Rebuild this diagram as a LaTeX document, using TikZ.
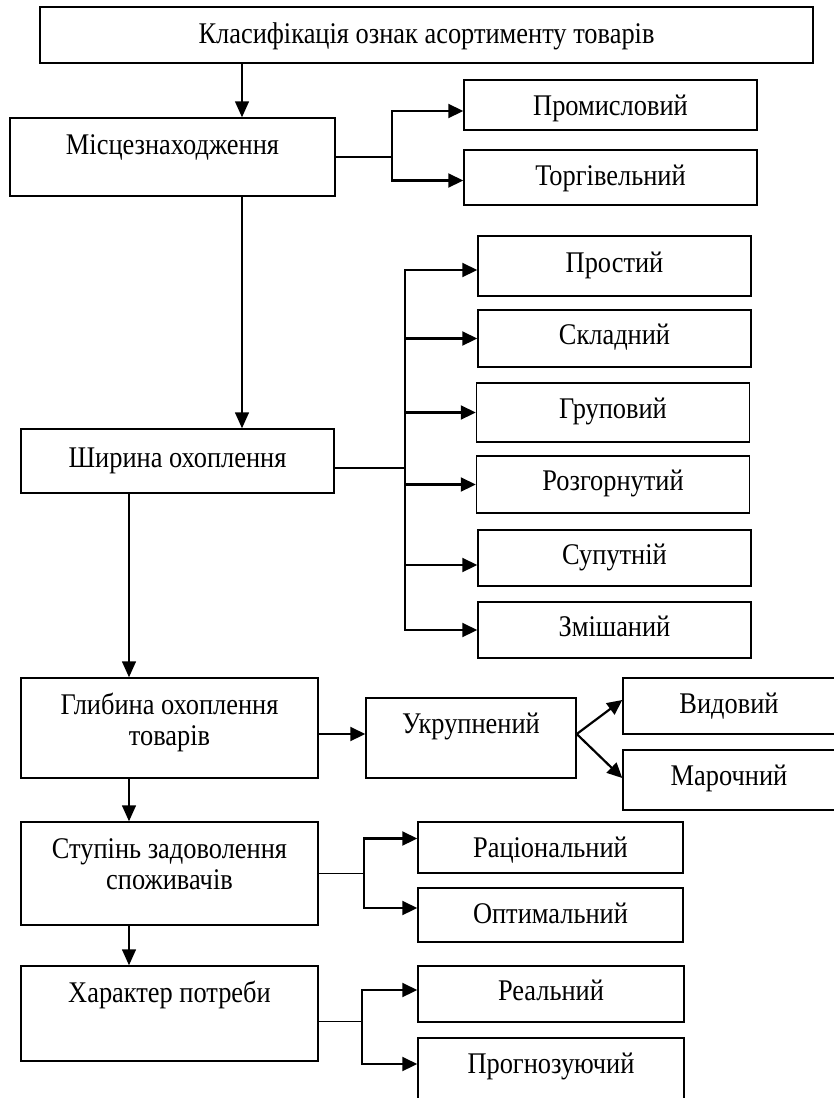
\documentclass[tikz,border=0pt]{standalone}
\usepackage{fontspec}
\setmainfont{Liberation Serif}[FakeStretch=0.88]
\usetikzlibrary{arrows.meta, positioning, calc}

\begin{document}
\begin{tikzpicture}[
  x=1pt, y=-1pt,
  box/.style={draw, line width=1.5pt, inner sep=0pt, align=center, text height=20pt, text depth=8pt, font=\fontsize{30}{31}\selectfont},
  arr/.style={-{Triangle[length=16pt,width=14pt]}, line width=1.5pt},
  branch/.style={-{Triangle[length=15pt,width=14pt]}, line width=2.2pt},
  link/.style={line width=1.6pt}
]
\useasboundingbox (0,0) rectangle (833,1098);

% left column
\node[box, minimum width=773pt, minimum height=56pt, text depth=3pt] (title) at (426.5,35) {Класифікація ознак асортименту товарів};
\node[box, minimum width=325pt, minimum height=78pt, text depth=26pt] (loc) at (172.5,157) {Місцезнаходження};
\node[box, minimum width=313pt, minimum height=64pt] (wide) at (177.5,461) {Ширина охоплення};
\node[box, minimum width=297pt, minimum height=100pt, text height=51pt, text depth=17pt] (deep) at (169.5,728) {Глибина охоплення\\товарів};
\node[box, minimum width=297pt, minimum height=103pt, text height=51pt, text depth=20pt] (need) at (169.5,873.5) {Ступінь задоволення\\споживачів};
\node[box, minimum width=297pt, minimum height=95pt, text depth=43pt] (kind) at (169.5,1013.5) {Характер потреби};

% right boxes
\node[box, minimum width=293pt, minimum height=50pt, text depth=0pt] (prom) at (610.5,105) {Промисловий};
\node[box, minimum width=293pt, minimum height=55pt, text depth=5pt] (torg) at (610.5,177.5) {Торгівельний};

\node[box, minimum width=273pt, minimum height=60pt] (prost) at (614.5,266) {Простий};
\node[box, minimum width=273pt, minimum height=57pt] (sklad) at (614.5,338.5) {Складний};
\node[box, minimum width=273pt, minimum height=59pt] (grup) at (613,412.5) {Груповий};
\node[box, minimum width=273pt, minimum height=57pt] (rozg) at (613,484.5) {Розгорнутий};
\node[box, minimum width=273pt, minimum height=56pt] (suput) at (614.5,558) {Супутній};
\node[box, minimum width=273pt, minimum height=56pt] (zmish) at (614.5,630) {Змішаний};

\node[box, minimum width=210pt, minimum height=80pt, text depth=30pt] (ukr) at (471,738) {Укрупнений};
\node[box, minimum width=212pt, minimum height=56pt, text depth=6pt] (vyd) at (729,706) {Видовий};
\node[box, minimum width=212pt, minimum height=60pt, text depth=10pt] (mar) at (729,780) {Марочний};

\node[box, minimum width=265pt, minimum height=51pt, text depth=1pt] (rac) at (550.5,847.5) {Раціональний};
\node[box, minimum width=265pt, minimum height=54pt, text depth=4pt] (opt) at (550.5,915) {Оптимальний};
\node[box, minimum width=266pt, minimum height=56pt] (real) at (551,994) {Реальний};
\node[box, minimum width=266pt, minimum height=64pt, text depth=14pt] (prog) at (551,1070) {Прогнозуючий};

% main line
\coordinate (up) at (242,0);
\coordinate (down) at (129,0);
\draw[arr] (up |- title.south) -- (up |- loc.north);
\draw[arr] (up |- loc.south) -- (up |- wide.north);
\draw[arr] (down |- wide.south) -- (down |- deep.north);
\draw[arr] (down |- deep.south) -- (down |- need.north);
\draw[arr] (down |- need.south) -- (down |- kind.north);

% branches
\coordinate (b1) at (392,0);
\draw[link] (loc.east) -- (loc.east -| b1);
\draw[branch] (loc.east -| b1) |- ([yshift=-6pt]prom.west);
\draw[branch] (loc.east -| b1) |- ([yshift=-3pt]torg.west);

\coordinate (b2) at (405,0);
\draw[link] ([yshift=-7pt]wide.east) -- ([yshift=-7pt]wide.east -| b2);
\draw[branch] ([yshift=-7pt]wide.east -| b2) |- ([yshift=-4pt]prost.west);
\draw[branch] ([yshift=-7pt]wide.east -| b2) |- (sklad.west);
\draw[branch] ([yshift=-7pt]wide.east -| b2) |- (grup.west);
\draw[branch] ([yshift=-7pt]wide.east -| b2) |- (rozg.west);
\draw[branch] ([yshift=-7pt]wide.east -| b2) |- ([yshift=-7pt]suput.west);
\draw[branch] ([yshift=-7pt]wide.east -| b2) |- (zmish.west);

\draw[branch] ([yshift=-6pt]deep.east) -- ([yshift=-6pt]deep.east -| ukr.west);
\draw[branch] ([yshift=4pt]ukr.east) -- ([yshift=6pt]vyd.west);
\draw[branch] ([yshift=4pt]ukr.east) -- ([yshift=2pt]mar.west);

\coordinate (b3) at (364,0);
\draw[link] (need.east) -- (need.east -| b3);
\draw[branch] (need.east -| b3) |- ([yshift=9pt]rac.west);
\draw[branch] (need.east -| b3) |- ([yshift=7pt]opt.west);

\coordinate (b4) at (362,0);
\draw[link] ([yshift=-8pt]kind.east) -- ([yshift=-8pt]kind.east -| b4);
\draw[branch] ([yshift=-8pt]kind.east -| b4) |- ([yshift=4pt]real.west);
\draw[branch] ([yshift=-8pt]kind.east -| b4) |- ([yshift=6pt]prog.west);
\end{tikzpicture}
\end{document}
